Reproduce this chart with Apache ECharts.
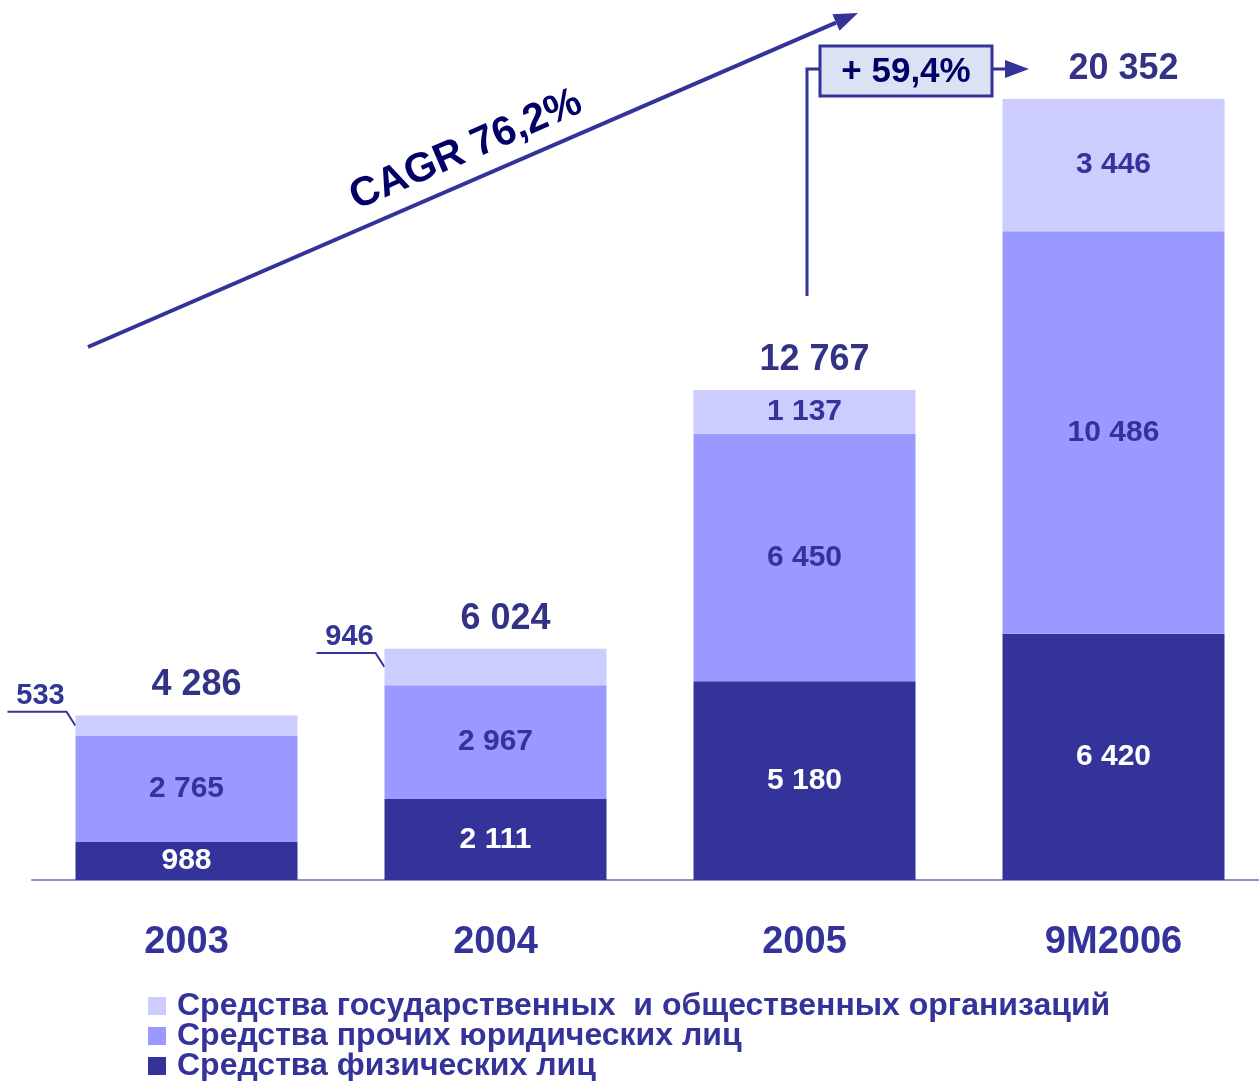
<!DOCTYPE html>
<html>
<head>
<meta charset="utf-8">
<script src="https://cdn.jsdelivr.net/npm/echarts@6/dist/echarts.min.js"></script>
<style>
  html, body { margin: 0; padding: 0; background: #fff; }
  #chart { width: 1259px; height: 1081px; }
</style>
</head>
<body>
<div id="chart"></div>
<script>
const categories = ['2003', '2004', '2005', '9M2006'];
const physValues = [988, 2111, 5180, 6420];
const otherValues = [2765, 2967, 6450, 10486];
const govValues = [533, 946, 1137, 3446];
const totals = [4286, 6024, 12767, 20352];

const seriesNames = [
  'Средства государственных  и общественных организаций',
  'Средства прочих юридических лиц',
  'Средства физических лиц'
];

const FONT = '"Liberation Sans", Arial, sans-serif';
const fmt = (v) => String(v).replace(/\B(?=(\d{3})+(?!\d))/g, ' ');

const chart = echarts.init(document.getElementById('chart'));

// подписи внутри сегментов
const segLabel = (color) => ({
  show: true,
  position: 'inside',
  color: color,
  fontFamily: FONT,
  fontWeight: 'bold',
  fontSize: 30,
  formatter: (p) => fmt(p.value)
});

const BAR_W = 222;

const option = {
  animation: false,
  backgroundColor: '#ffffff',
  grid: { left: 32, right: -9, top: 99, bottom: 201, outerBoundsMode: 'none', containLabel: false },
  legend: {
    orient: 'vertical',
    left: 148,
    top: 990,
    height: 130,
    padding: 0,
    itemWidth: 18,
    itemHeight: 18,
    itemGap: -2,
    icon: 'rect',
    data: seriesNames,
    textStyle: {
      color: '#333399',
      fontFamily: FONT,
      fontWeight: 'bold',
      fontSize: 32,
      lineHeight: 30,
      padding: [0, 0, 0, 6]
    }
  },
  xAxis: {
    type: 'category',
    data: categories,
    axisLine: { show: true, lineStyle: { color: '#8f8fcc', width: 2 } },
    axisTick: { show: false },
    axisLabel: {
      margin: 44,
      color: '#333399',
      fontFamily: FONT,
      fontWeight: 'bold',
      fontSize: 38
    }
  },
  yAxis: {
    type: 'value',
    min: 0,
    max: 20352,
    show: false,
    splitLine: { show: false }
  },
  series: [
    {
      name: seriesNames[2],
      type: 'bar',
      stack: 'total',
      barWidth: BAR_W,
      itemStyle: { color: '#333399' },
      label: segLabel('#ffffff'),
      data: physValues
    },
    {
      name: seriesNames[1],
      type: 'bar',
      stack: 'total',
      barWidth: BAR_W,
      itemStyle: { color: '#9999ff' },
      label: segLabel('#333399'),
      data: otherValues
    },
    {
      name: seriesNames[0],
      type: 'bar',
      stack: 'total',
      barWidth: BAR_W,
      itemStyle: { color: '#ccccff' },
      label: segLabel('#333399'),
      // для 2003 и 2004 подписи вынесены наружу
      data: govValues.map((v, i) => (i < 2 ? { value: v, label: { show: false } } : v))
    },
    {
      name: 'total',
      type: 'scatter',
      symbolSize: 0,
      silent: true,
      label: {
        show: true,
        position: 'top',
        distance: 12,
        offset: [10, 0],
        color: '#000066',
        fontFamily: FONT,
        fontWeight: 'bold',
        fontSize: 36,
        formatter: (p) => fmt(p.value)
      },
      data: totals
    }
  ]
};

chart.setOption(option);

// выноски для маленьких сегментов + стрелки
const graphics = [];
const navy = '#333399';

for (let i = 0; i < 2; i++) {
  const cx = chart.convertToPixel({ xAxisIndex: 0 }, i);
  const left = cx - BAR_W / 2;
  const ymid = chart.convertToPixel({ yAxisIndex: 0 }, physValues[i] + otherValues[i] + govValues[i] / 2);
  graphics.push({
    type: 'polyline',
    shape: { points: [[left, ymid], [left - 9, ymid - 14], [left - 68, ymid - 14]] },
    style: { stroke: navy, lineWidth: 2, fill: null }
  });
  graphics.push({
    type: 'text',
    x: left - 35,
    y: ymid - 15,
    style: {
      text: fmt(govValues[i]),
      align: 'center',
      verticalAlign: 'bottom',
      fill: navy,
      font: 'bold 29px ' + FONT
    }
  });
}

// CAGR стрелка
const a0 = [88, 347], a1 = [858, 13];
const ang = Math.atan2(a1[1] - a0[1], a1[0] - a0[0]);
const headLen = 24, headW = 9;
const bx = a1[0] - headLen * Math.cos(ang), by = a1[1] - headLen * Math.sin(ang);
graphics.push({
  type: 'line',
  shape: { x1: a0[0], y1: a0[1], x2: bx, y2: by },
  style: { stroke: navy, lineWidth: 4 }
});
graphics.push({
  type: 'polygon',
  shape: {
    points: [
      a1,
      [bx + headW * Math.sin(ang), by - headW * Math.cos(ang)],
      [bx - headW * Math.sin(ang), by + headW * Math.cos(ang)]
    ]
  },
  style: { fill: navy }
});
graphics.push({
  type: 'text',
  x: 466,
  y: 150,
  rotation: -ang,
  style: {
    text: 'CAGR 76,2%',
    align: 'center',
    verticalAlign: 'middle',
    fill: '#000066',
    font: 'bold 41px ' + FONT
  }
});

// +59,4%
graphics.push({
  type: 'polyline',
  shape: { points: [[807, 296], [807, 69], [820, 69]] },
  style: { stroke: navy, lineWidth: 3, fill: null }
});
graphics.push({
  type: 'rect',
  shape: { x: 820, y: 46, width: 172, height: 50 },
  style: { fill: '#dbe2f3', stroke: navy, lineWidth: 3 }
});
graphics.push({
  type: 'text',
  x: 906,
  y: 72,
  style: {
    text: '+ 59,4%',
    align: 'center',
    verticalAlign: 'middle',
    fill: '#000066',
    font: 'bold 35px ' + FONT
  }
});
graphics.push({
  type: 'line',
  shape: { x1: 993, y1: 69, x2: 1008, y2: 69 },
  style: { stroke: navy, lineWidth: 3 }
});
graphics.push({
  type: 'polygon',
  shape: { points: [[1005, 60], [1029, 69], [1005, 78]] },
  style: { fill: navy }
});

chart.setOption({ graphic: graphics });

window.addEventListener('resize', chart.resize);
</script>
</body>
</html>
